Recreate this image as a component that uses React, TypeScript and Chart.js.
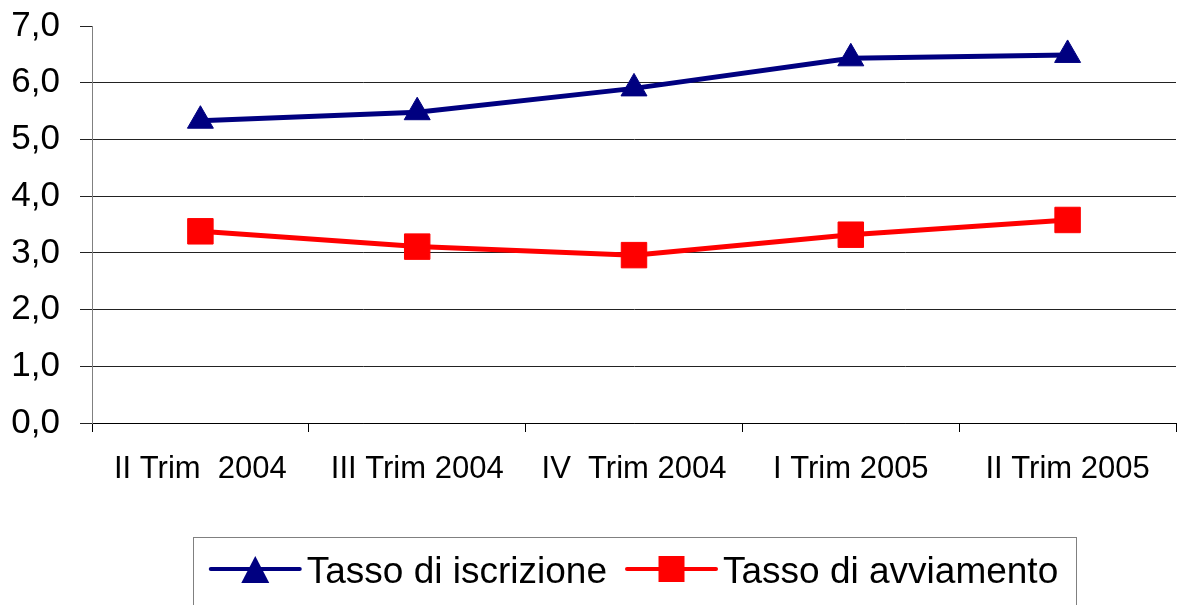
import React, { useEffect, useRef } from 'react';
import { Chart, registerables } from 'chart.js';

Chart.register(...registerables);

const categories = ['II Trim  2004', 'III Trim 2004', 'IV  Trim 2004', 'I Trim 2005', 'II Trim 2005'];
const tassoIscrizione = [5.33, 5.48, 5.9, 6.43, 6.49];
const tassoAvviamento = [3.38, 3.11, 2.96, 3.32, 3.58];
const yTickLabels = ['0,0', '1,0', '2,0', '3,0', '4,0', '5,0', '6,0', '7,0'];
const seriesLabels = ['Tasso di iscrizione', 'Tasso di avviamento'];
const seriesColors = ['#000080', '#FF0000'];

const FONT = '"Liberation Sans", Arial, sans-serif';

const boxLegendPlugin = {
  id: 'boxLegend',
  afterDraw(chart: any) {
    const ctx = chart.ctx as CanvasRenderingContext2D;
    ctx.save();
    const boxL = 193;
    const boxR = 1076;
    const boxT = 537;
    ctx.strokeStyle = '#808080';
    ctx.lineWidth = 1;
    ctx.strokeRect(boxL + 0.5, boxT + 0.5, boxR - boxL, 120);

    ctx.font = `37px ${FONT}`;
    const lineLen = 89;
    const gapText = 7;
    const gapItem = 20;
    const items = chart.data.datasets.map((ds: any) => ({
      label: ds.label as string,
      color: ds.borderColor as string,
      style: ds.pointStyle as string,
      w: ctx.measureText(ds.label).width,
    }));
    let total = 0;
    items.forEach((it: any, i: number) => {
      total += lineLen + gapText + it.w + (i > 0 ? gapItem : 0);
    });
    let x = (boxL + boxR) / 2 - total / 2;
    const yMid = 569;
    items.forEach((it: any) => {
      ctx.strokeStyle = it.color;
      ctx.fillStyle = it.color;
      ctx.lineWidth = 4;
      ctx.lineCap = 'round';
      ctx.beginPath();
      ctx.moveTo(x, yMid);
      ctx.lineTo(x + lineLen, yMid);
      ctx.stroke();
      const cx = x + lineLen / 2;
      ctx.beginPath();
      if (it.style === 'triangle') {
        ctx.moveTo(cx, yMid - 13);
        ctx.lineTo(cx + 14, yMid + 14);
        ctx.lineTo(cx - 14, yMid + 14);
        ctx.closePath();
      } else {
        ctx.rect(cx - 13, yMid - 13, 26, 26);
      }
      ctx.fill();
      ctx.fillStyle = '#000';
      ctx.textBaseline = 'alphabetic';
      ctx.textAlign = 'left';
      ctx.fillText(it.label, x + lineLen + gapText, 583);
      x += lineLen + gapText + it.w + gapItem;
    });
    ctx.restore();
  },
};

export default function App() {
  const canvasRef = useRef<HTMLCanvasElement | null>(null);

  useEffect(() => {
    if (!canvasRef.current) return;
    const chart = new Chart(canvasRef.current, {
      type: 'line',
      data: {
        labels: categories,
        datasets: [
          {
            label: seriesLabels[0],
            data: tassoIscrizione,
            borderColor: seriesColors[0],
            backgroundColor: seriesColors[0],
            borderWidth: 5,
            pointStyle: 'triangle',
            pointRadius: 15,
            pointHoverRadius: 15,
            pointBorderWidth: 1,
            pointBackgroundColor: seriesColors[0],
            pointBorderColor: seriesColors[0],
            tension: 0,
            fill: false,
          },
          {
            label: seriesLabels[1],
            data: tassoAvviamento,
            borderColor: seriesColors[1],
            backgroundColor: seriesColors[1],
            borderWidth: 5,
            pointStyle: 'rect',
            pointRadius: 18,
            pointHoverRadius: 18,
            pointBorderWidth: 1,
            pointBackgroundColor: seriesColors[1],
            pointBorderColor: seriesColors[1],
            tension: 0,
            fill: false,
          },
        ],
      },
      options: {
        animation: false,
        responsive: true,
        maintainAspectRatio: false,
        layout: { autoPadding: false, padding: { top: 26, right: 5, bottom: 122, left: 0 } },
        plugins: {
          legend: { display: false },
          tooltip: { enabled: false },
        },
        scales: {
          x: {
            type: 'category',
            offset: true,
            grid: {
              display: true,
              drawOnChartArea: false,
              drawTicks: true,
              tickLength: 9,
              offset: true,
              tickColor: '#000',
            },
            border: { display: true, color: '#000', width: 1 },
            ticks: {
              color: '#000',
              font: { family: FONT, size: 31 },
              padding: 19,
              maxRotation: 0,
              autoSkip: false,
            },
            afterFit: (s: any) => {
              s.height = 60;
              s.paddingLeft = 0;
              s.paddingRight = 0;
            },
          },
          y: {
            min: 0,
            max: 7,
            ticks: {
              stepSize: 1,
              color: '#000',
              font: { family: FONT, size: 35 },
              padding: 20,
              callback: (v: any) => yTickLabels[Math.round(Number(v))],
            },
            grid: {
              color: (c: any) => (c.tick && c.tick.value === 7 ? 'rgba(0,0,0,0)' : '#222'),
              tickColor: '#222',
              tickLength: 12,
              lineWidth: 1,
            },
            border: { display: true, color: '#808080', width: 1 },
            afterFit: (s: any) => {
              s.width = 92;
              s.paddingTop = 0;
              s.paddingBottom = 0;
            },
          },
        },
      },
      plugins: [boxLegendPlugin],
    });
    return () => chart.destroy();
  }, []);

  return (
    <div style={{ position: 'fixed', left: 0, top: 0, width: 1181, height: 605, background: '#fff' }}>
      <canvas ref={canvasRef} />
    </div>
  );
}
